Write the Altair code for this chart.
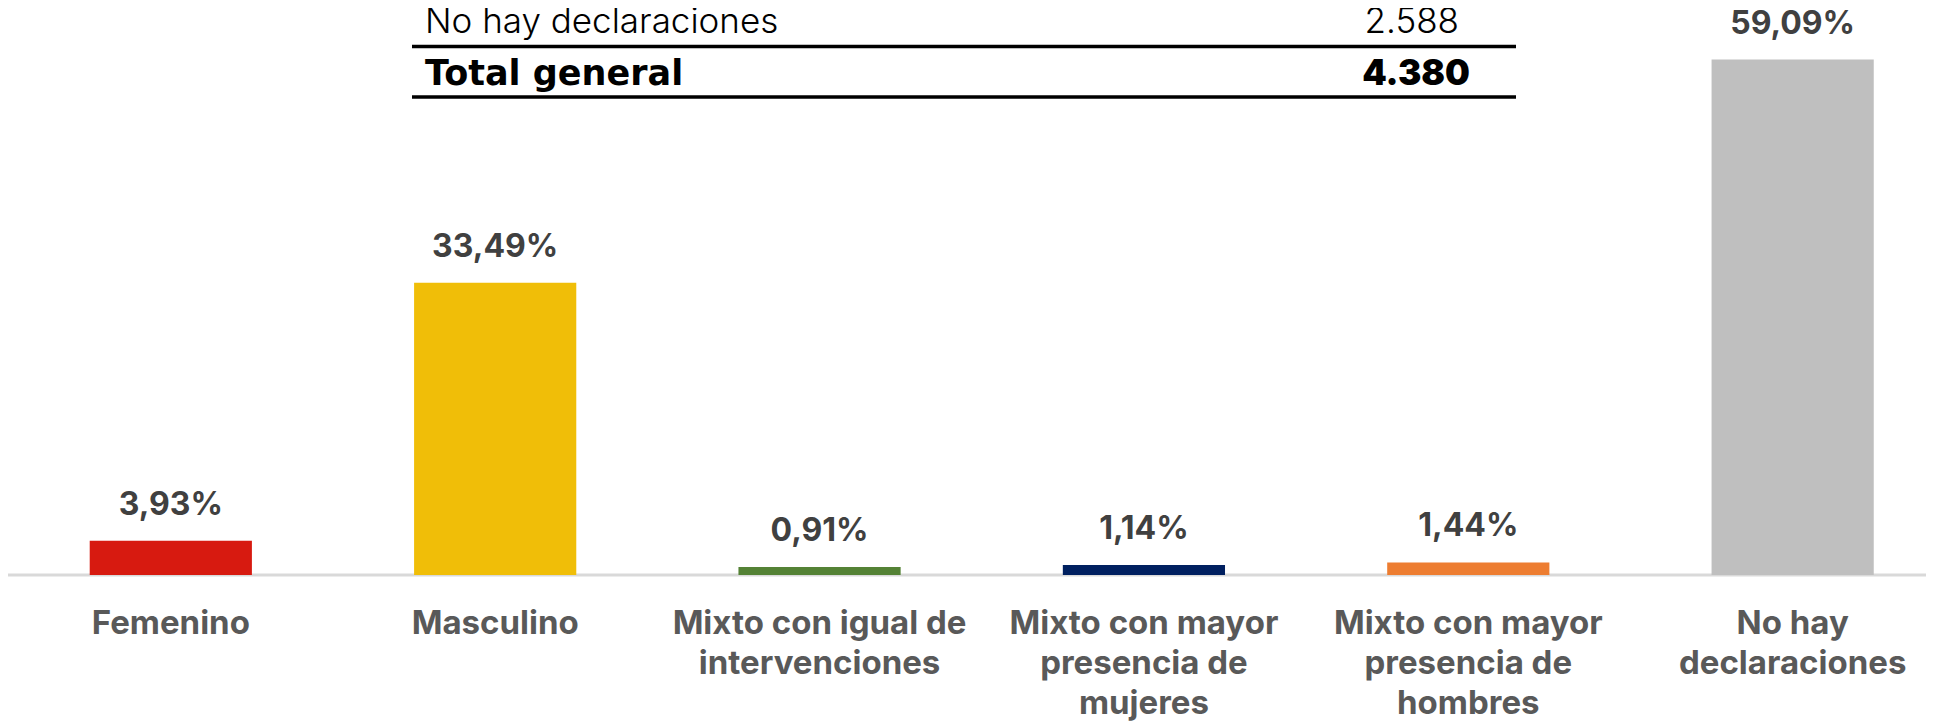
import json
import altair as alt
import pandas as pd

# ---- data ----
categories = [
    "Femenino",
    "Masculino",
    "Mixto con igual de intervenciones",
    "Mixto con mayor presencia de mujeres",
    "Mixto con mayor presencia de hombres",
    "No hay declaraciones",
]
percentages = [3.93, 33.49, 0.91, 1.14, 1.44, 59.09]
bar_colors = ["#D71A10", "#F0BE08", "#548235", "#002060", "#ED7D31", "#BFBFBF"]
axis_label_lines = [
    ["Femenino"],
    ["Masculino"],
    ["Mixto con igual de", "intervenciones"],
    ["Mixto con mayor", "presencia de", "mujeres"],
    ["Mixto con mayor", "presencia de", "hombres"],
    ["No hay", "declaraciones"],
]
table_rows = ["No hay declaraciones", "Total general"]
table_counts = ["2.588", "4.380"]

W = 1918
H = 567

df = pd.DataFrame({
    "categoria": categories,
    "pct": percentages,
    "etiqueta": [f"{v:.2f}".replace(".", ",") + "%" for v in percentages],
})

label_map = json.dumps(dict(zip(categories, axis_label_lines)), ensure_ascii=False)

x_enc = alt.X(
    "categoria:N",
    sort=categories,
    scale=alt.Scale(paddingInner=0.5, paddingOuter=0.2065, align=0.61),
    axis=alt.Axis(
        title=None, domain=False, ticks=False, labelAngle=0,
        labelExpr=f"{label_map}[datum.label]",
        labelFont="Inter", labelFontSize=33, labelFontWeight="bold",
        labelColor="#595959", labelPadding=32, labelLineHeight=40,
        labelLimit=0,
    ),
)
y_scale = alt.Scale(domain=[0, 65])
y_enc = alt.Y("pct:Q", scale=y_scale, axis=None)

base = alt.Chart(df)

baseline = alt.Chart(pd.DataFrame({"y": [0]})).mark_rule(
    color="#D9D9D9", strokeWidth=3
).encode(
    y=alt.Y("y:Q", scale=y_scale, axis=None),
    x=alt.value(0), x2=alt.value(W),
)

bars = base.mark_bar().encode(
    x=x_enc,
    y=y_enc,
    color=alt.Color("categoria:N", scale=alt.Scale(domain=categories, range=bar_colors), legend=None),
)

labels = base.mark_text(
    dy=-26, baseline="alphabetic", font="Inter", fontSize=32,
    fontWeight="bold", color="#404040",
).encode(x=x_enc, y=y_enc, text="etiqueta:N")

tbl = pd.DataFrame({"fila": table_rows, "n": table_counts})

row1_txt = alt.Chart(tbl.iloc[[0]]).mark_text(
    align="left", baseline="alphabetic", font="Inter", fontSize=35,
    fontWeight=300, color="#000000",
).encode(x=alt.value(417), y=alt.value(25), text="fila:N")
row1_num = alt.Chart(tbl.iloc[[0]]).mark_text(
    align="right", baseline="alphabetic", font="Inter", fontSize=35,
    fontWeight=300, color="#000000",
).encode(x=alt.value(1451), y=alt.value(25), text="n:N")
row2_txt = alt.Chart(tbl.iloc[[1]]).mark_text(
    align="left", baseline="alphabetic", font="DejaVu Sans", fontSize=35,
    fontWeight="bold", color="#000000",
).encode(x=alt.value(417), y=alt.value(77), text="fila:N")
row2_num = alt.Chart(tbl.iloc[[1]]).mark_text(
    align="right", baseline="alphabetic", font="Inter", fontSize=35,
    fontWeight=900, color="#000000",
).encode(x=alt.value(1462), y=alt.value(77), text="n:N")

line1 = alt.Chart(tbl.iloc[[0]]).mark_rule(color="#000000", strokeWidth=3.5).encode(
    x=alt.value(404), x2=alt.value(1508), y=alt.value(38.5)
)
line2 = alt.Chart(tbl.iloc[[0]]).mark_rule(color="#000000", strokeWidth=3.5).encode(
    x=alt.value(404), x2=alt.value(1508), y=alt.value(89)
)

chart = alt.layer(
    baseline, bars, labels, row1_txt, row1_num, row2_txt, row2_num, line1, line2
).properties(
    width=W, height=H,
    autosize=alt.AutoSizeParams(type="none"),
    padding={"left": 0, "top": 0, "right": 0, "bottom": 148},
    background="white",
).configure_view(stroke=None)

chart.save("out.html", embed_options={"renderer": "svg", "actions": False})
